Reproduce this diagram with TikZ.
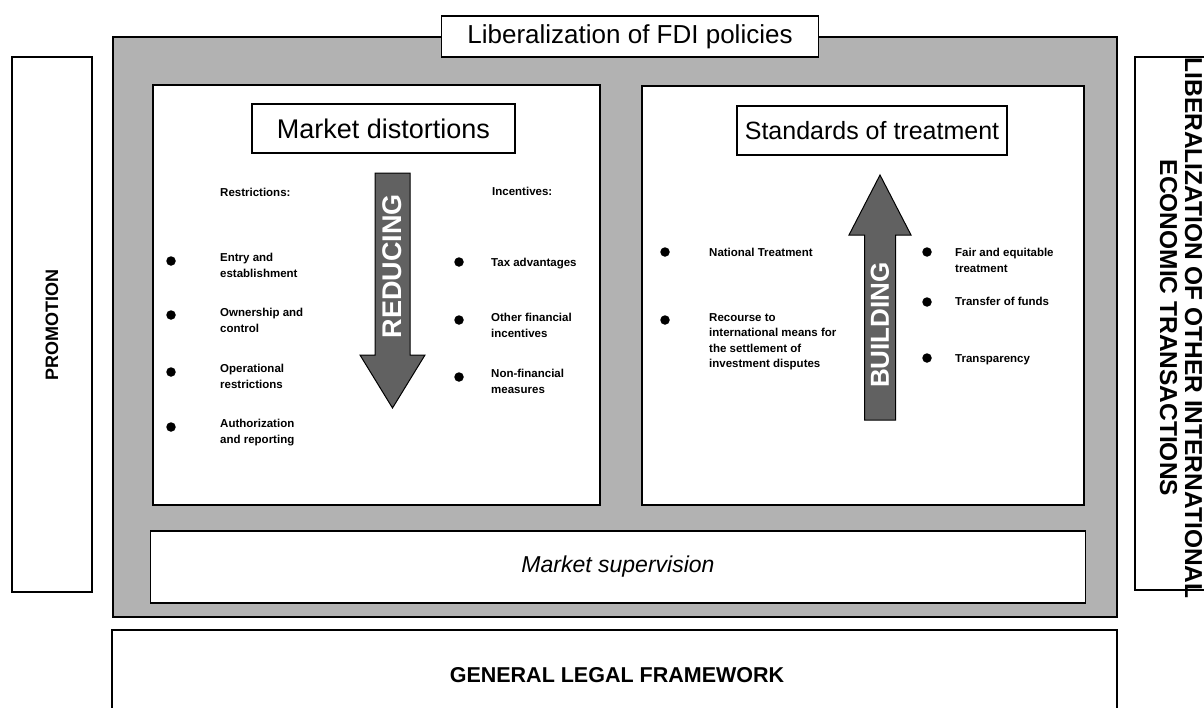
\documentclass[tikz,border=0pt]{standalone}
\usepackage{fontspec}
\setmainfont{Liberation Sans}
\begin{document}
\begin{tikzpicture}[x=1pt,y=-1pt,
  frame/.style={draw, line width=1.2pt, fill=white, inner sep=0pt},
  shade/.style={draw, line width=1.2pt, fill=black!30, inner sep=0pt},
  arrowshape/.style={draw, line width=1pt, fill=black!62},
  small/.style={font=\fontsize{11.5}{15.5}\selectfont\bfseries, align=left, inner sep=0pt, anchor=north west},
  bul/.style={circle, fill=black, inner sep=0pt, minimum size=9.5pt},
  big/.style={font=\fontsize{27}{30}\selectfont},
  arrtext/.style={font=\fontsize{27}{30}\selectfont\bfseries, text=white, rotate=90, inner sep=0pt}
]
\useasboundingbox (0,0) rectangle (1204,707);

% outer shaded area
\node[shade, minimum width=1004pt, minimum height=580pt] (fdi) at (615,327) {};
\node[frame, minimum width=377pt, minimum height=41pt, font=\fontsize{26}{28}\selectfont] (title) at (630,36.5) {Liberalization of FDI policies};

% side boxes
\draw[line width=1.2pt] (12,57) rectangle (92,592);
\node[rotate=90, font=\fontsize{18}{20}\selectfont\bfseries] (promo) at (52,325) {PROMOTION};
\draw[line width=1.2pt] (1135,57) rectangle (1240,590);
\node[rotate=-90, align=center, font=\fontsize{24.5}{25}\selectfont\bfseries] (other) at (1181,328) {LIBERALIZATION OF OTHER INTERNATIONAL\\ECONOMIC TRANSACTIONS};

% bottom box
\draw[line width=1.2pt] (112,630) rectangle (1117,740);
\node[font=\fontsize{21.5}{24}\selectfont\bfseries] (glf) at (617,675) {GENERAL LEGAL FRAMEWORK};

% panels
\node[frame, minimum width=447pt, minimum height=420pt] (left) at (376.5,295) {};
\node[frame, minimum width=442pt, minimum height=419pt] (right) at (863,295.5) {};
\node[frame, minimum width=935pt, minimum height=72pt, font=\fontsize{23}{26}\selectfont\itshape] (sup) at (618,567) {Market supervision};

\node[frame, big, minimum width=263pt, minimum height=49pt] (md) at (383.5,128.5) {Market distortions};
\node[frame, font=\fontsize{25}{28}\selectfont, minimum width=270pt, minimum height=49pt] (st) at (872,130.5) {Standards of treatment};

% reducing arrow
\draw[arrowshape] (375,173) -- (410,173) -- (410,355) -- (425,355) -- (392.5,408) -- (360,355) -- (375,355) -- cycle;
\node[arrtext] (red) at (392.5,266) {REDUCING};

% building arrow
\draw[arrowshape] (864.5,420) -- (895.5,420) -- (895.5,235) -- (911,235) -- (880,175) -- (849,235) -- (864.5,235) -- cycle;
\node[arrtext, font=\fontsize{26}{30}\selectfont\bfseries] (bld) at (880,325) {BUILDING};

% left panel lists
\node[small] (rh) at (220,188) {Restrictions:};
\node[bul] (b1) at (171,261) {};
\node[small] (t1) at (220,253) {Entry and\\establishment};
\node[bul] (b2) at (171,315) {};
\node[small] (t2) at (220,308) {Ownership and\\control};
\node[bul] (b3) at (171,372) {};
\node[small] (t3) at (220,364) {Operational\\restrictions};
\node[bul] (b4) at (171,427) {};
\node[small] (t4) at (220,419) {Authorization\\and reporting};

\node[small] (ih) at (492,187) {Incentives:};
\node[bul] (c1) at (459,262) {};
\node[small] (u1) at (491,258) {Tax advantages};
\node[bul] (c2) at (459,320) {};
\node[small] (u2) at (491,313) {Other financial\\incentives};
\node[bul] (c3) at (459,377) {};
\node[small] (u3) at (491,369) {Non-financial\\measures};

% right panel lists
\node[bul] (d1) at (665,252) {};
\node[small] (v1) at (709,248) {National Treatment};
\node[bul] (d2) at (665,320) {};
\node[small] (v2) at (709,313) {Recourse to\\international means for\\the settlement of\\investment disputes};

\node[bul] (e1) at (927,252) {};
\node[small] (w1) at (955,248) {Fair and equitable\\treatment};
\node[bul] (e2) at (927,302) {};
\node[small] (w2) at (955,297) {Transfer of funds};
\node[bul] (e3) at (927,358) {};
\node[small] (w3) at (955,354) {Transparency};
\end{tikzpicture}
\end{document}
